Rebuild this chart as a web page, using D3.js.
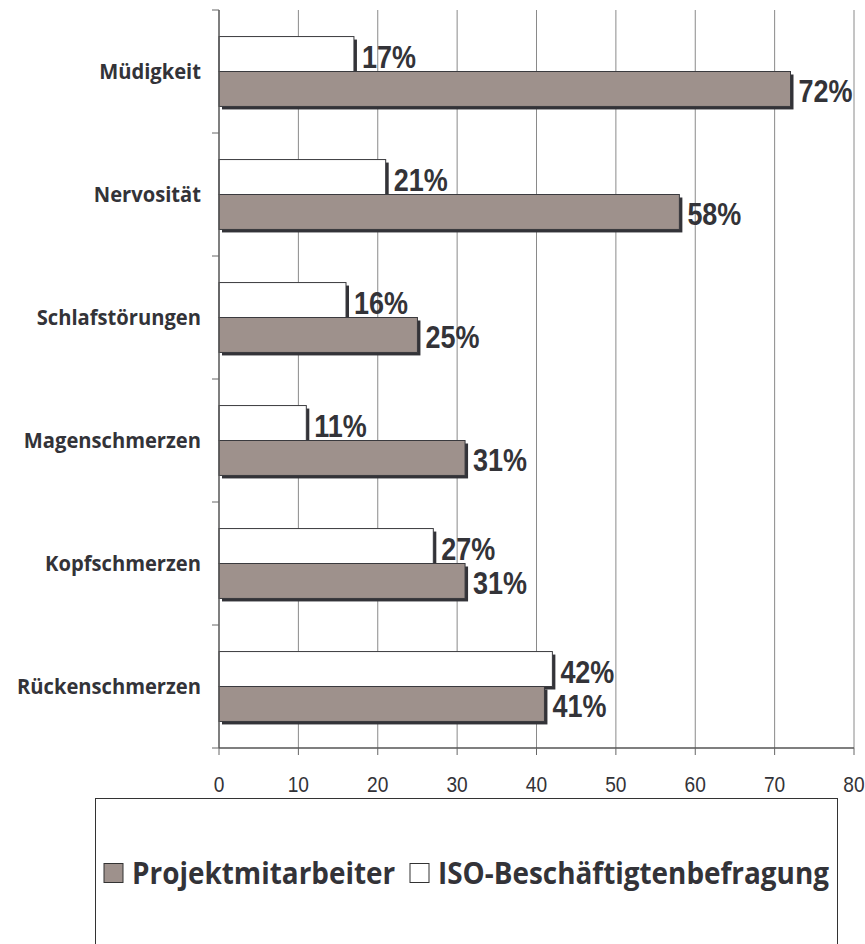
<!DOCTYPE html>
<html>
<head>
<meta charset="utf-8">
<script src="https://cdn.jsdelivr.net/npm/d3@7"></script>
<style>
  html, body { margin: 0; padding: 0; background: #fff; }
  svg { display: block; }
</style>
</head>
<body>
<svg id="chart" width="865" height="944"></svg>
<script>
const categories = ["Müdigkeit", "Nervosität", "Schlafstörungen", "Magenschmerzen", "Kopfschmerzen", "Rückenschmerzen"];
const seriesNames = ["ISO-Beschäftigtenbefragung", "Projektmitarbeiter"];
const isoValues = [17, 21, 16, 11, 27, 42];
const projektValues = [72, 58, 25, 31, 31, 41];
const xTicks = [0, 10, 20, 30, 40, 50, 60, 70, 80];
const legendOrder = ["Projektmitarbeiter", "ISO-Beschäftigtenbefragung"];

const colors = { "Projektmitarbeiter": "#9e918c", "ISO-Beschäftigtenbefragung": "#ffffff" };
const dark = "#333338";

const svg = d3.select("#chart");
const x = d3.scaleLinear().domain([0, 80]).range([219, 854]);
const y = d3.scaleBand().domain(categories).range([10, 748]).padding(0);
const ySub = d3.scaleBand().domain(seriesNames).range([0, y.bandwidth()]).paddingInner(0).paddingOuter(0.76);

const rows = [];
categories.forEach((c, i) => {
  rows.push({ cat: c, series: seriesNames[0], value: isoValues[i] });
  rows.push({ cat: c, series: seriesNames[1], value: projektValues[i] });
});

// gridlines
svg.append("g").selectAll("line").data(xTicks.slice(1)).join("line")
  .attr("x1", d => x(d)).attr("x2", d => x(d))
  .attr("y1", 10).attr("y2", 748)
  .attr("stroke", "#8a8a8a").attr("stroke-width", 1);

// shadows
svg.append("g").selectAll("rect").data(rows).join("rect")
  .attr("x", x(0) + 3)
  .attr("y", d => y(d.cat) + ySub(d.series) + 3)
  .attr("width", d => x(d.value) - x(0))
  .attr("height", ySub.bandwidth())
  .attr("fill", dark);

// bars
svg.append("g").selectAll("rect").data(rows).join("rect")
  .attr("x", x(0))
  .attr("y", d => y(d.cat) + ySub(d.series))
  .attr("width", d => x(d.value) - x(0))
  .attr("height", ySub.bandwidth())
  .attr("fill", d => colors[d.series])
  .attr("stroke", "#3a3a3e").attr("stroke-width", 1);

// value labels
svg.append("g").selectAll("text").data(rows).join("text")
  .attr("transform", d => `translate(${x(d.value) + 8},${y(d.cat) + ySub(d.series) + ySub.bandwidth() - 4}) scale(0.87,1)`)
  .attr("font-family", "'Liberation Sans', Arial, sans-serif")
  .attr("font-weight", "bold")
  .attr("font-size", 31)
  .attr("fill", dark)
  .text(d => d.value + "%");

// y axis
const yAxis = svg.append("g");
yAxis.append("line").attr("x1", x(0)).attr("x2", x(0)).attr("y1", 10).attr("y2", 748)
  .attr("stroke", "#555").attr("stroke-width", 1.5);
const boundaries = categories.map(c => y(c)).concat([y.range()[1]]);
yAxis.selectAll("line.tick").data(boundaries).join("line").attr("class", "tick")
  .attr("x1", x(0) - 7).attr("x2", x(0)).attr("y1", d => d).attr("y2", d => d)
  .attr("stroke", "#666").attr("stroke-width", 1);
yAxis.selectAll("text").data(categories).join("text")
  .attr("transform", d => `translate(201,${y(d) + y.bandwidth() / 2 + 7.5}) scale(0.96,1)`)
  .attr("text-anchor", "end")
  .attr("font-family", "'Open Sans', sans-serif")
  .attr("font-weight", "bold")
  .attr("font-size", 21)
  .attr("fill", dark)
  .text(d => d);

// x axis
const xAxis = svg.append("g");
xAxis.append("line").attr("x1", x(0)).attr("x2", x(80)).attr("y1", 748).attr("y2", 748)
  .attr("stroke", "#555").attr("stroke-width", 1.5);
xAxis.selectAll("line.tick").data(xTicks).join("line").attr("class", "tick")
  .attr("x1", d => x(d)).attr("x2", d => x(d)).attr("y1", 748).attr("y2", 755)
  .attr("stroke", "#666").attr("stroke-width", 1);
xAxis.selectAll("text").data(xTicks).join("text")
  .attr("transform", d => `translate(${x(d)},792) scale(0.87,1)`)
  .attr("text-anchor", "middle")
  .attr("font-family", "'Liberation Sans', Arial, sans-serif")
  .attr("font-size", 22)
  .attr("fill", dark)
  .text(d => d);

// legend
const legend = svg.append("g");
legend.append("rect").attr("x", 95.5).attr("y", 798.5).attr("width", 742).attr("height", 160)
  .attr("fill", "#fff").attr("stroke", "#333").attr("stroke-width", 1);
const legendX = { "Projektmitarbeiter": 104, "ISO-Beschäftigtenbefragung": 410 };
legendOrder.forEach(name => {
  const g = legend.append("g");
  g.append("rect").attr("x", legendX[name]).attr("y", 863.5).attr("width", 19).attr("height", 19)
    .attr("fill", colors[name]).attr("stroke", "#333").attr("stroke-width", 1);
  g.append("text")
    .attr("transform", `translate(${legendX[name] + 28},884) scale(0.93,1)`)
    .attr("font-family", "'Open Sans', sans-serif")
    .attr("font-weight", "bold")
    .attr("font-size", 30)
    .attr("fill", dark)
    .text(name);
});
</script>
</body>
</html>
